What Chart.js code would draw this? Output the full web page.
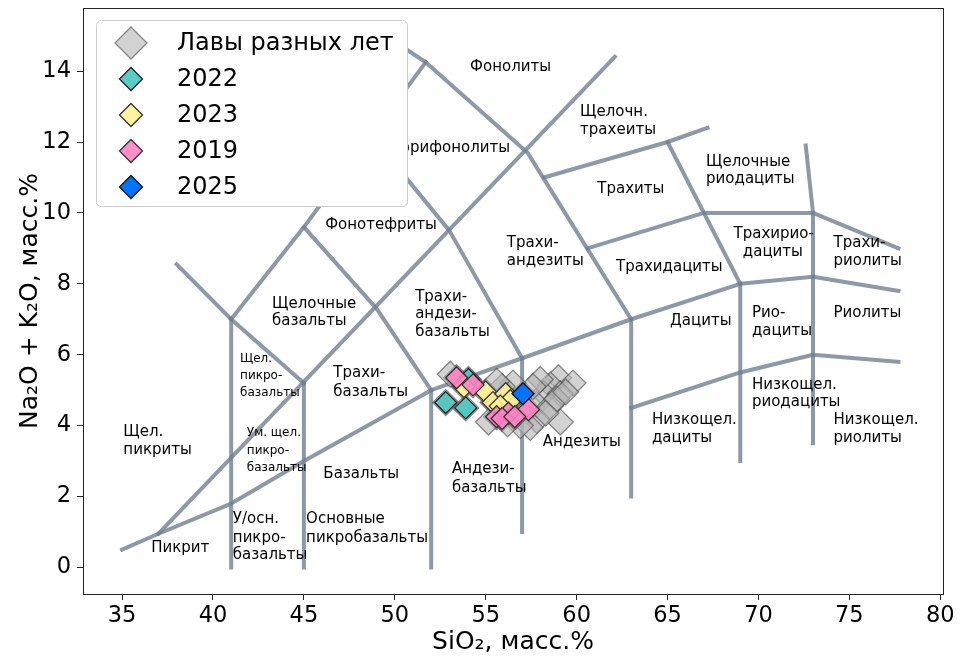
<!DOCTYPE html>
<html>
<head>
<meta charset="utf-8">
<script src="https://cdn.jsdelivr.net/npm/chart.js@4.4.1/dist/chart.umd.min.js"></script>
<style>
  html, body { margin: 0; padding: 0; background: #fff; }
  #wrap { width: 960px; height: 657px; }
</style>
</head>
<body>
<div id="wrap"><canvas id="tasChart"></canvas></div>
<script>
const xTicks = [35, 40, 45, 50, 55, 60, 65, 70, 75, 80];
const yTicks = [0, 2, 4, 6, 8, 10, 12, 14];

// field boundaries, [SiO2, Na2O+K2O]
const boundaryLines = [
  [[35, 0.5], [37, 0.95], [41, 1.8], [45, 3], [52, 5], [57, 5.9], [63, 7], [69, 8], [73, 8.2], [77.7, 7.8]],
  [[37, 0.95], [62.1, 14.4]],
  [[41, 0], [41, 7]],
  [[45, 0], [45, 5.2]],
  [[52, 0], [52, 5]],
  [[57, 1], [57, 5.9]],
  [[63, 2], [63, 7]],
  [[69, 3], [69, 8]],
  [[72.6, 11.9], [73, 10], [73, 3.5]],
  [[63, 4.5], [69, 5.5], [73, 6], [77.7, 5.8]],
  [[65, 12], [69, 8]],
  [[60.6, 9], [67, 10], [73, 10], [77.7, 9]],
  [[58.2, 11], [65, 12], [67.2, 12.4]],
  [[49.5, 15.0], [51.7, 14.25], [57.3, 11.7], [63, 7]],
  [[38, 8.55], [41, 7], [45, 5.2]],
  [[41, 7], [45, 9.6], [51.7, 14.25]],
  [[45, 9.6], [49, 7.3], [52, 5]],
  [[48.6, 12.25], [53, 9.5], [57, 5.9]]
];

// Лавы разных лет
const lavasSiO2 = [52.8, 53.9, 54.05, 53.4, 54.3, 53.8, 55.0, 55.4, 55.6, 56.25, 56.1, 56.35, 57.35, 55.9, 57.05,
  55.15, 59.0, 59.8, 58.55, 58.2, 59.1, 57.8, 58.55, 59.1, 57.8, 57.45, 58.0, 57.6, 56.5, 55.9, 55.6, 53.05, 56.9, 56.2, 55.8, 56.6,
  58.9, 59.4, 58.3];
const lavasAlk = [4.65, 4.5, 5.3, 5.35, 5.15, 5.1, 4.95, 4.65, 4.25, 4.35, 4.9, 4.7, 4.45, 4.2, 4.9,
  4.1, 5.35, 5.2, 5.15, 4.9, 4.9, 4.6, 4.55, 4.1, 4.15, 3.95, 5.3, 5.1, 5.2, 5.1, 5.25, 5.45, 4.0, 4.05, 4.55, 4.25,
  4.75, 4.95, 4.35];

const y2022SiO2 = [52.8, 53.9, 54.05];
const y2022Alk = [4.65, 4.5, 5.3];
const y2023SiO2 = [53.8, 55.0, 55.4, 56.1, 56.35, 55.8];
const y2023Alk = [5.1, 4.95, 4.65, 4.9, 4.7, 4.55];
const y2019SiO2 = [53.4, 54.3, 55.6, 56.25, 55.9, 57.35, 56.6];
const y2019Alk = [5.35, 5.15, 4.25, 4.35, 4.2, 4.45, 4.25];
const y2025SiO2 = [57.05];
const y2025Alk = [4.9];

// field names, placed at left edge / middle of the line
const fieldLabels = [
  { t: "Фонолиты", x: 54.14, y: 14.12 },
  { t: "Щелочн.", x: 60.19, y: 12.84 }, { t: "трахеиты", x: 60.19, y: 12.33 },
  { t: "Тефрифонолиты", x: 56.34, y: 11.83, right: true },
  { t: "Трахиты", x: 61.14, y: 10.66 },
  { t: "Щелочные", x: 67.12, y: 11.44 }, { t: "риодациты", x: 67.12, y: 10.94 },
  { t: "Фонотефриты", x: 46.17, y: 9.65 },
  { t: "Трахи-", x: 56.16, y: 9.15 }, { t: "андезиты", x: 56.16, y: 8.64 },
  { t: "Трахидациты", x: 62.17, y: 8.48 },
  { t: "Трахирио-", x: 68.63, y: 9.4 }, { t: "дациты", x: 69.14, y: 8.9 },
  { t: "Трахи-", x: 74.13, y: 9.14 }, { t: "риолиты", x: 74.13, y: 8.65 },
  { t: "Щелочные", x: 43.25, y: 7.44 }, { t: "базальты", x: 43.25, y: 6.95 },
  { t: "Трахи-", x: 51.12, y: 7.63 }, { t: "андези-", x: 51.12, y: 7.14 }, { t: "базальты", x: 51.12, y: 6.64 },
  { t: "Дациты", x: 65.14, y: 6.95 },
  { t: "Рио-", x: 69.64, y: 7.16 }, { t: "дациты", x: 69.64, y: 6.66 },
  { t: "Риолиты", x: 74.13, y: 7.16 },
  { t: "Щел.", x: 41.49, y: 5.89, small: true }, { t: "пикро-", x: 41.49, y: 5.39, small: true }, { t: "базальты", x: 41.49, y: 4.92, small: true },
  { t: "Трахи-", x: 46.62, y: 5.47 }, { t: "базальты", x: 46.62, y: 4.95 },
  { t: "Низкощел.", x: 69.64, y: 5.14 }, { t: "риодациты", x: 69.64, y: 4.65 },
  { t: "Низкощел.", x: 64.14, y: 4.15 }, { t: "дациты", x: 64.14, y: 3.65 },
  { t: "Низкощел.", x: 74.13, y: 4.15 }, { t: "риолиты", x: 74.13, y: 3.65 },
  { t: "Андезиты", x: 58.14, y: 3.54 },
  { t: "Ум. щел.", x: 41.86, y: 3.79, small: true }, { t: "пикро-", x: 41.86, y: 3.3, small: true }, { t: "базальты", x: 41.86, y: 2.81, small: true },
  { t: "Щел.", x: 35.07, y: 3.82 }, { t: "пикриты", x: 35.07, y: 3.32 },
  { t: "Базальты", x: 46.07, y: 2.64 },
  { t: "Андези-", x: 53.14, y: 2.76 }, { t: "базальты", x: 53.14, y: 2.25 },
  { t: "Основные", x: 45.12, y: 1.35 }, { t: "пикробазальты", x: 45.12, y: 0.84 },
  { t: "У/осн.", x: 41.09, y: 1.35 }, { t: "пикро-", x: 41.09, y: 0.84 }, { t: "базальты", x: 41.09, y: 0.34 },
  { t: "Пикрит", x: 36.6, y: 0.54 }
];

const FONT = "'DejaVu Sans', sans-serif";

function toPoints(xs, ys) {
  return xs.map((v, i) => ({ x: v, y: ys[i] }));
}

const datasets = [];

// marker series in legend order; lower "order" = drawn on top
const series = [
  { label: "Лавы разных лет", xs: lavasSiO2, ys: lavasAlk, fill: "rgba(180,180,180,0.6)", edge: "rgba(70,70,70,0.6)", r: 13, lr: 16, order: 5 },
  { label: "2022", xs: y2022SiO2, ys: y2022Alk, fill: "rgba(72,198,188,0.9)", edge: "#222", r: 11, lr: 11.5, order: 4 },
  { label: "2023", xs: y2023SiO2, ys: y2023Alk, fill: "rgba(255,242,150,0.9)", edge: "#333", r: 11, lr: 11.5, order: 3 },
  { label: "2019", xs: y2019SiO2, ys: y2019Alk, fill: "rgba(255,130,195,0.9)", edge: "#333", r: 11, lr: 11.5, order: 2 },
  { label: "2025", xs: y2025SiO2, ys: y2025Alk, fill: "rgba(0,115,255,1)", edge: "#111", r: 11, lr: 11.5, order: 1 }
];

series.forEach(s => {
  datasets.push({
    label: s.label,
    data: toPoints(s.xs, s.ys),
    pointStyle: "rectRot",
    pointRadius: s.r,
    pointHoverRadius: s.r,
    backgroundColor: s.fill,
    borderColor: s.edge,
    borderWidth: 1.3,
    showLine: false,
    order: s.order
  });
});

boundaryLines.forEach(line => {
  datasets.push({
    label: "",
    data: line.map(p => ({ x: p[0], y: p[1] })),
    showLine: true,
    pointRadius: 0,
    pointHoverRadius: 0,
    borderColor: "rgba(112,128,144,0.8)",
    borderWidth: 4,
    borderCapStyle: "square",
    borderJoinStyle: "round",
    fill: false,
    order: 10
  });
});

function diamond(ctx, cx, cy, r, fill, edge) {
  ctx.beginPath();
  ctx.moveTo(cx, cy - r);
  ctx.lineTo(cx + r, cy);
  ctx.lineTo(cx, cy + r);
  ctx.lineTo(cx - r, cy);
  ctx.closePath();
  ctx.fillStyle = fill;
  ctx.fill();
  ctx.lineWidth = 1.3;
  ctx.strokeStyle = edge;
  ctx.stroke();
}

const tasDecor = {
  id: "tasDecor",
  afterDatasetsDraw(chart) {
    const { ctx, chartArea: a, scales } = chart;
    ctx.save();
    ctx.fillStyle = "#000";
    ctx.textBaseline = "middle";
    fieldLabels.forEach(l => {
      ctx.font = (l.small ? "12px " : "15px ") + FONT;
      ctx.textAlign = l.right ? "right" : "left";
      ctx.fillText(l.t, scales.x.getPixelForValue(l.x), scales.y.getPixelForValue(l.y));
    });
    // box around the axes
    ctx.strokeStyle = "#222";
    ctx.lineWidth = 1;
    ctx.strokeRect(a.left + 0.5, a.top + 0.5, a.right - a.left, a.bottom - a.top);
    ctx.restore();
  },
  afterDraw(chart) {
    const { ctx, chartArea: a } = chart;
    const bx = a.left + 13, by = a.top + 12, bw = 311, bh = 186;
    ctx.save();
    ctx.beginPath();
    ctx.roundRect(bx + 0.5, by + 0.5, bw, bh, 5);
    ctx.fillStyle = "#fff";
    ctx.fill();
    ctx.strokeStyle = "#cccccc";
    ctx.lineWidth = 1;
    ctx.stroke();
    ctx.font = "24px " + FONT;
    ctx.textAlign = "left";
    ctx.textBaseline = "middle";
    series.forEach((s, i) => {
      const cy = by + 23 + i * 36;
      diamond(ctx, bx + 35, cy, s.lr, s.fill, s.edge);
      ctx.fillStyle = "#000";
      ctx.fillText(s.label, bx + 81, cy + 1);
    });
    ctx.restore();
  }
};

const ctx = document.getElementById("tasChart").getContext("2d");
new Chart(ctx, {
  type: "scatter",
  data: { datasets: datasets },
  options: {
    responsive: true,
    maintainAspectRatio: false,
    animation: false,
    events: [],
    layout: { autoPadding: false, padding: { top: 8, right: 17, left: 0, bottom: 0 } },
    plugins: {
      legend: { display: false },
      tooltip: { enabled: false }
    },
    scales: {
      x: {
        type: "linear",
        min: 32.85,
        max: 80.15,
        afterBuildTicks: s => { s.ticks = xTicks.map(v => ({ value: v })); },
        afterFit: s => { s.height = 63; s.paddingLeft = 0; s.paddingRight = 0; },
        ticks: { font: { family: FONT, size: 22.5 }, color: "#000", padding: 3, maxRotation: 0 },
        grid: { drawOnChartArea: false, tickLength: 6, tickColor: "#222", tickWidth: 1 },
        border: { color: "#222", width: 1 },
        title: { display: true, text: "SiO₂, масс.%", color: "#000", font: { family: FONT, size: 25 }, padding: { top: 0, bottom: 0 } }
      },
      y: {
        type: "linear",
        min: -0.75,
        max: 15.78,
        afterBuildTicks: s => { s.ticks = yTicks.map(v => ({ value: v })); },
        afterFit: s => { s.width = 83; s.paddingTop = 0; s.paddingBottom = 0; },
        ticks: { font: { family: FONT, size: 22.5 }, color: "#000", padding: 6 },
        grid: { drawOnChartArea: false, tickLength: 6, tickColor: "#222", tickWidth: 1 },
        border: { color: "#222", width: 1 },
        title: { display: true, text: "Na₂O + K₂O, масс.%", color: "#000", font: { family: FONT, size: 25 }, padding: { top: 15, bottom: 0 } }
      }
    }
  },
  plugins: [tasDecor]
});
</script>
</body>
</html>
